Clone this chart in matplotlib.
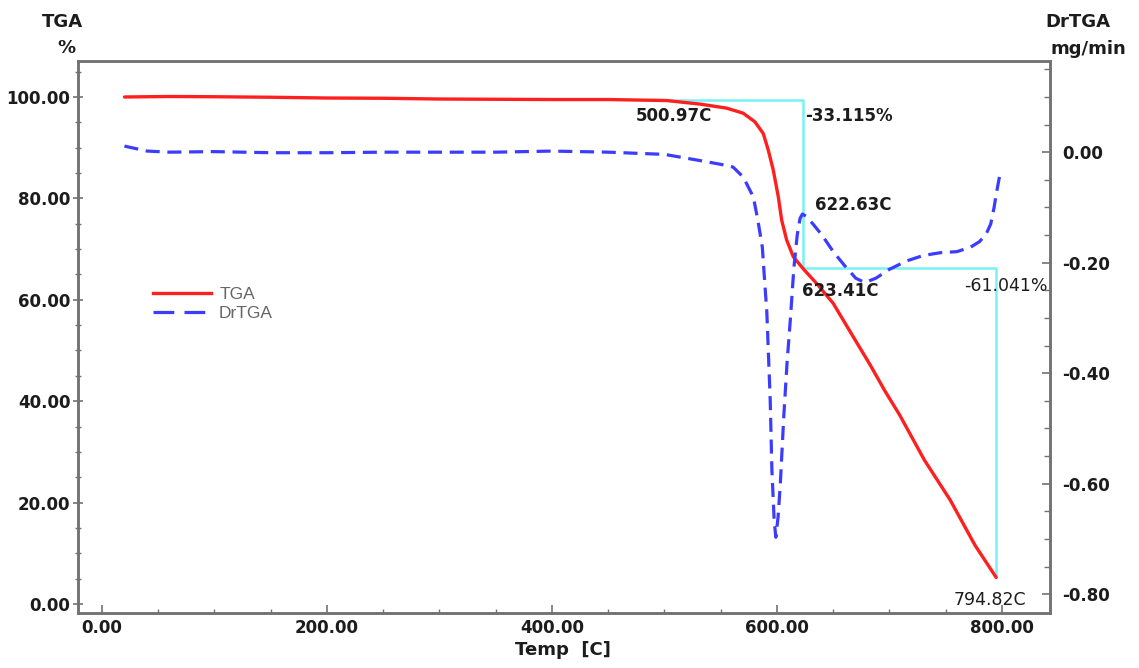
import matplotlib
matplotlib.use("Agg")
import matplotlib.pyplot as plt
from matplotlib.ticker import MultipleLocator, FormatStrFormatter
from matplotlib.lines import Line2D

plt.rcParams["font.family"] = ["DejaVu Sans"]

# --- TGA curve: temperature [C] vs. residual mass [%] ---
tga_temp = [20, 60, 100, 150, 200, 250, 300, 350, 400, 450, 502, 531.6,
            555.3, 570, 580.4, 587.8, 592.3, 596.7, 601.2, 604.2, 608.6,
            614.5, 623.41, 635.3, 650, 667.8, 683, 696, 709, 731, 754, 776,
            794.82]
tga_mass = [100.0, 100.1, 100.05, 99.95, 99.8, 99.75, 99.6, 99.55, 99.5,
            99.5, 99.3, 98.6, 97.8, 96.8, 95.1, 92.8, 89.5, 85.6, 80.3, 75.7,
            71.8, 68.5, 66.1, 63.2, 59.3, 52.7, 47.1, 42.0, 37.3, 28.4, 20.5,
            11.6, 5.244]

# --- DrTGA curve: temperature [C] vs. mass-loss rate [mg/min] ---
dr_temp = [20, 40, 60, 100, 150, 200, 250, 300, 350, 400, 450, 500, 531,
           550, 561, 570, 579, 583, 587, 589, 591, 594, 595.5, 597.5, 599,
           601, 603, 606, 609, 612, 615, 618, 620.5, 622.63, 626, 632, 640,
           650, 660, 670, 678, 688, 700, 715, 730, 745, 760, 772, 780, 786,
           790, 793, 795, 798]
dr_rate = [0.011, 0.002, 0.0, 0.001, -0.001, -0.001, 0.0, 0.0, 0.0, 0.002,
           0.0, -0.004, -0.015, -0.022, -0.027, -0.045, -0.081, -0.123,
           -0.172, -0.232, -0.29, -0.449, -0.575, -0.666, -0.697, -0.66,
           -0.60, -0.48, -0.38, -0.30, -0.21, -0.15, -0.12, -0.112, -0.116,
           -0.13, -0.15, -0.18, -0.205, -0.228, -0.236, -0.228, -0.212,
           -0.197, -0.187, -0.182, -0.180, -0.172, -0.162, -0.148, -0.13,
           -0.10, -0.075, -0.042]

# --- step analysis results ---
onset_temp = 500.97
mid_temp = 623.41
end_temp = 794.82
start_level = 99.4
step1 = -33.115
step2 = -61.041
peak_temp = 622.63
peak_rate = -0.112

x_ticks = [0, 200, 400, 600, 800]
left_ticks = [0, 20, 40, 60, 80, 100]
right_ticks = [-0.8, -0.6, -0.4, -0.2, 0.0]

W, H = 1139, 668
fig = plt.figure(figsize=(W / 100, H / 100), dpi=100)
ax = fig.add_axes([78 / W, (H - 613) / H, (1050 - 78) / W, (613 - 61) / H])
ax2 = ax.twinx()

red = "#ff1f1f"
blue = "#3c3cff"
cyan = "#78f2f2"
spine_c = "#727272"
text_c = "#1c1c1c"
fs = 12

# step lines of the TGA evaluation
mid_level = start_level + step1
end_level = mid_level + step2
ax.plot([onset_temp, mid_temp, mid_temp, end_temp, end_temp],
        [start_level, start_level, mid_level, mid_level, end_level],
        color=cyan, lw=1.8, zorder=2)

ax.plot(tga_temp, tga_mass, color=red, lw=2.4, zorder=3,
        solid_capstyle="round", solid_joinstyle="round")
ax2.plot(dr_temp, dr_rate, color=blue, lw=2.3, zorder=3,
         linestyle=(0, (4.4, 2.4)))

ax.set_xlim(-21.3, 842.7)
ax.set_ylim(-1.78, 107.1)
ax2.set_ylim(-0.834, 0.165)

ax.set_xticks(x_ticks)
ax.xaxis.set_minor_locator(MultipleLocator(50))
ax.set_yticks(left_ticks)
ax.yaxis.set_minor_locator(MultipleLocator(5))
ax2.set_yticks(right_ticks)
ax2.yaxis.set_minor_locator(MultipleLocator(0.05))
ax.xaxis.set_major_formatter(FormatStrFormatter("%.2f"))
ax.yaxis.set_major_formatter(FormatStrFormatter("%.2f"))
ax2.yaxis.set_major_formatter(FormatStrFormatter("%.2f"))

for a in (ax, ax2):
    for s in a.spines.values():
        s.set_color(spine_c)
        s.set_linewidth(1.8)
ax.tick_params(axis="x", which="major", direction="in", length=6, width=1.2,
               color=spine_c, pad=4, labelsize=fs, labelcolor=text_c)
ax.tick_params(axis="x", which="minor", direction="in", length=3, width=1.0,
               color=spine_c)
ax.tick_params(axis="y", which="major", direction="inout", length=7, width=1.2,
               color=spine_c, pad=2, labelsize=fs, labelcolor=text_c)
ax.tick_params(axis="y", which="minor", direction="inout", length=4, width=1.0,
               color=spine_c)
ax2.tick_params(axis="y", which="major", direction="in", length=6, width=1.2,
                color=spine_c, pad=9, labelsize=fs, labelcolor=text_c)
ax2.tick_params(axis="y", which="minor", direction="in", length=4, width=1.0,
                color=spine_c)
for lab in ax.get_xticklabels() + ax.get_yticklabels() + ax2.get_yticklabels():
    lab.set_fontweight("bold")

# axis titles
def title(txt, x, y, size=13):
    fig.text(x / W, 1 - y / H, txt, ha="center", va="center", fontsize=size,
             fontweight="bold", color=text_c)

title("TGA", 62, 22)
title("%", 66, 48)
title("DrTGA", 1078, 22)
title("mg/min", 1088, 49)
title("Temp  [C]", 563, 650)

# annotations (offsets in points, 0.72 pt per pixel)
def note(axis, txt, x, y, dx, dy, bold=True, size=fs):
    axis.annotate(txt, xy=(x, y), xytext=(dx * 0.72, -dy * 0.72),
                  textcoords="offset points", ha="center", va="center",
                  fontsize=size, fontweight="bold" if bold else "normal",
                  color=text_c, annotation_clip=False, zorder=5)

note(ax, f"{onset_temp:.2f}C", onset_temp, start_level, 8, 16)
note(ax, f"{step1:.3f}%", mid_temp, start_level, 46, 16)
note(ax2, f"{peak_temp:.2f}C", peak_temp, peak_rate, 51, -9)
note(ax, f"{mid_temp:.2f}C", mid_temp, mid_level, 37, 23)
note(ax, f"{step2:.3f}%", end_temp, mid_level, 10, 18, bold=False, size=12.5)
note(ax, f"{end_temp:.2f}C", end_temp, end_level, -6, 23, bold=False,
     size=12.5)

# legend
handles = [Line2D([], [], color=red, lw=2.4),
           Line2D([], [], color=blue, lw=2.3, linestyle=(0, (6.5, 3.2)))]
leg = ax.legend(handles, ["TGA", "DrTGA"], loc="upper left",
                bbox_to_anchor=(141 / W, 1 - 275 / H),
                bbox_transform=fig.transFigure, frameon=False,
                prop={"family": "Liberation Sans", "size": 12.5},
                handlelength=3.35, handletextpad=0.45, labelspacing=0.22,
                borderpad=0.2)
for t in leg.get_texts():
    t.set_color("#666666")

fig.savefig("out.png", dpi=100, facecolor="white")
